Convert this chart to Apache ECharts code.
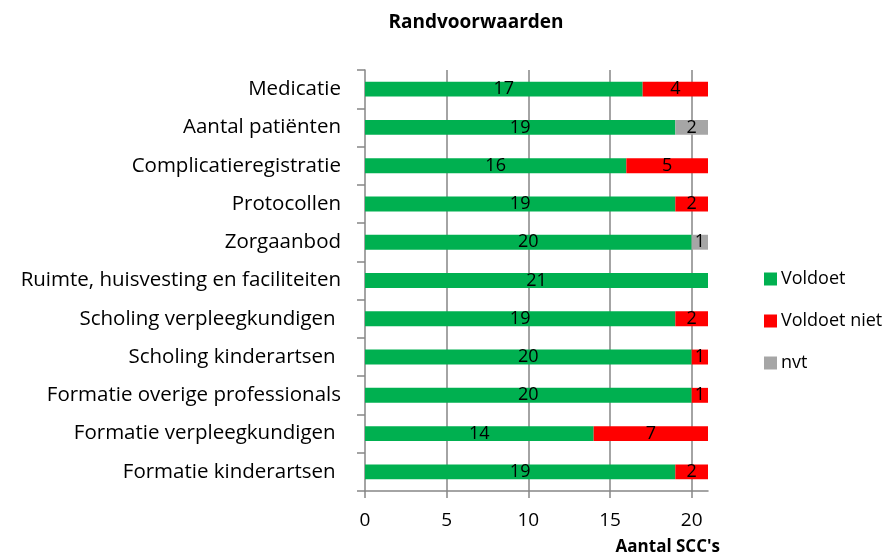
<!DOCTYPE html>
<html>
<head>
<meta charset="utf-8">
<script src="https://cdn.jsdelivr.net/npm/echarts@6/dist/echarts.min.js"></script>
<style>
  html, body { margin: 0; padding: 0; background: #fff; }
  #chart { width: 887px; height: 558px; }
</style>
</head>
<body>
<div id="chart"></div>
<script>
var categories = ['Medicatie', 'Aantal patiënten', 'Complicatieregistratie', 'Protocollen', 'Zorgaanbod',
  'Ruimte, huisvesting en faciliteiten', 'Scholing verpleegkundigen ', 'Scholing kinderartsen ',
  'Formatie overige professionals', 'Formatie verpleegkundigen ', 'Formatie kinderartsen '];
var voldoet = [17, 19, 16, 19, 20, 21, 19, 20, 20, 14, 19];
var voldoetNiet = [4, 0, 5, 2, 0, 0, 2, 1, 1, 7, 2];
var nvt = [0, 2, 0, 0, 1, 0, 0, 0, 0, 0, 0];
var xTicks = [0, 5, 10, 15, 20];

var font = 'Open Sans';
var chart = echarts.init(document.getElementById('chart'));

function mk(name, data, color) {
  return {
    name: name,
    type: 'bar',
    stack: 'tot',
    data: data,
    barWidth: '39%',
    itemStyle: { color: color },
    label: {
      show: true,
      position: 'inside',
      color: '#000',
      fontFamily: font,
      fontSize: 18,
      formatter: function (p) { return p.value ? p.value : ''; }
    }
  };
}

chart.setOption({
  animation: false,
  title: {
    text: 'Randvoorwaarden',
    left: 471,
    textAlign: 'center',
    top: 8,
    textStyle: { fontFamily: font, fontSize: 19, fontWeight: 'bold', color: '#000' }
  },
  legend: {
    orient: 'vertical',
    left: 759,
    top: 265,
    itemWidth: 13,
    itemHeight: 13,
    itemGap: 24,
    icon: 'rect',
    textStyle: { fontFamily: font, fontSize: 18, color: '#000', padding: [0, 0, 0, -1] },
    data: ['Voldoet', 'Voldoet niet', 'nvt']
  },
  grid: { left: 365, right: 179, top: 70, bottom: 67, containLabel: false },
  xAxis: {
    type: 'value',
    min: 0,
    max: 21,
    interval: 5,
    name: "Aantal SCC's",
    nameLocation: 'end',
    nameGap: 0,
    nameTextStyle: {
      fontFamily: font, fontSize: 17, fontWeight: 'bold', color: '#000',
      align: 'right', verticalAlign: 'top', padding: [48, -12, 0, 0]
    },
    axisLine: { show: true, lineStyle: { color: '#868686', width: 1.5 } },
    axisTick: { show: true, length: 7, lineStyle: { color: '#868686', width: 1.5 } },
    axisLabel: {
      fontFamily: font, fontSize: 19, color: '#000', margin: 20, showMaxLabel: false,
      formatter: function (v) { return xTicks.indexOf(v) >= 0 ? String(v) : ''; }
    },
    splitLine: { show: true, showMinLine: false, showMaxLine: false, lineStyle: { color: '#868686', width: 1.5 } }
  },
  yAxis: {
    type: 'category',
    inverse: true,
    data: categories,
    axisLine: { show: true, lineStyle: { color: '#868686', width: 1.5 } },
    axisTick: { show: true, length: 8, lineStyle: { color: '#868686', width: 1.5 } },
    axisLabel: { fontFamily: font, fontSize: 20.5, color: '#000', margin: 24 }
  },
  series: [
    mk('Voldoet', voldoet, '#00B050'),
    mk('Voldoet niet', voldoetNiet, '#FF0000'),
    mk('nvt', nvt, '#A6A6A6')
  ]
});
</script>
</body>
</html>
